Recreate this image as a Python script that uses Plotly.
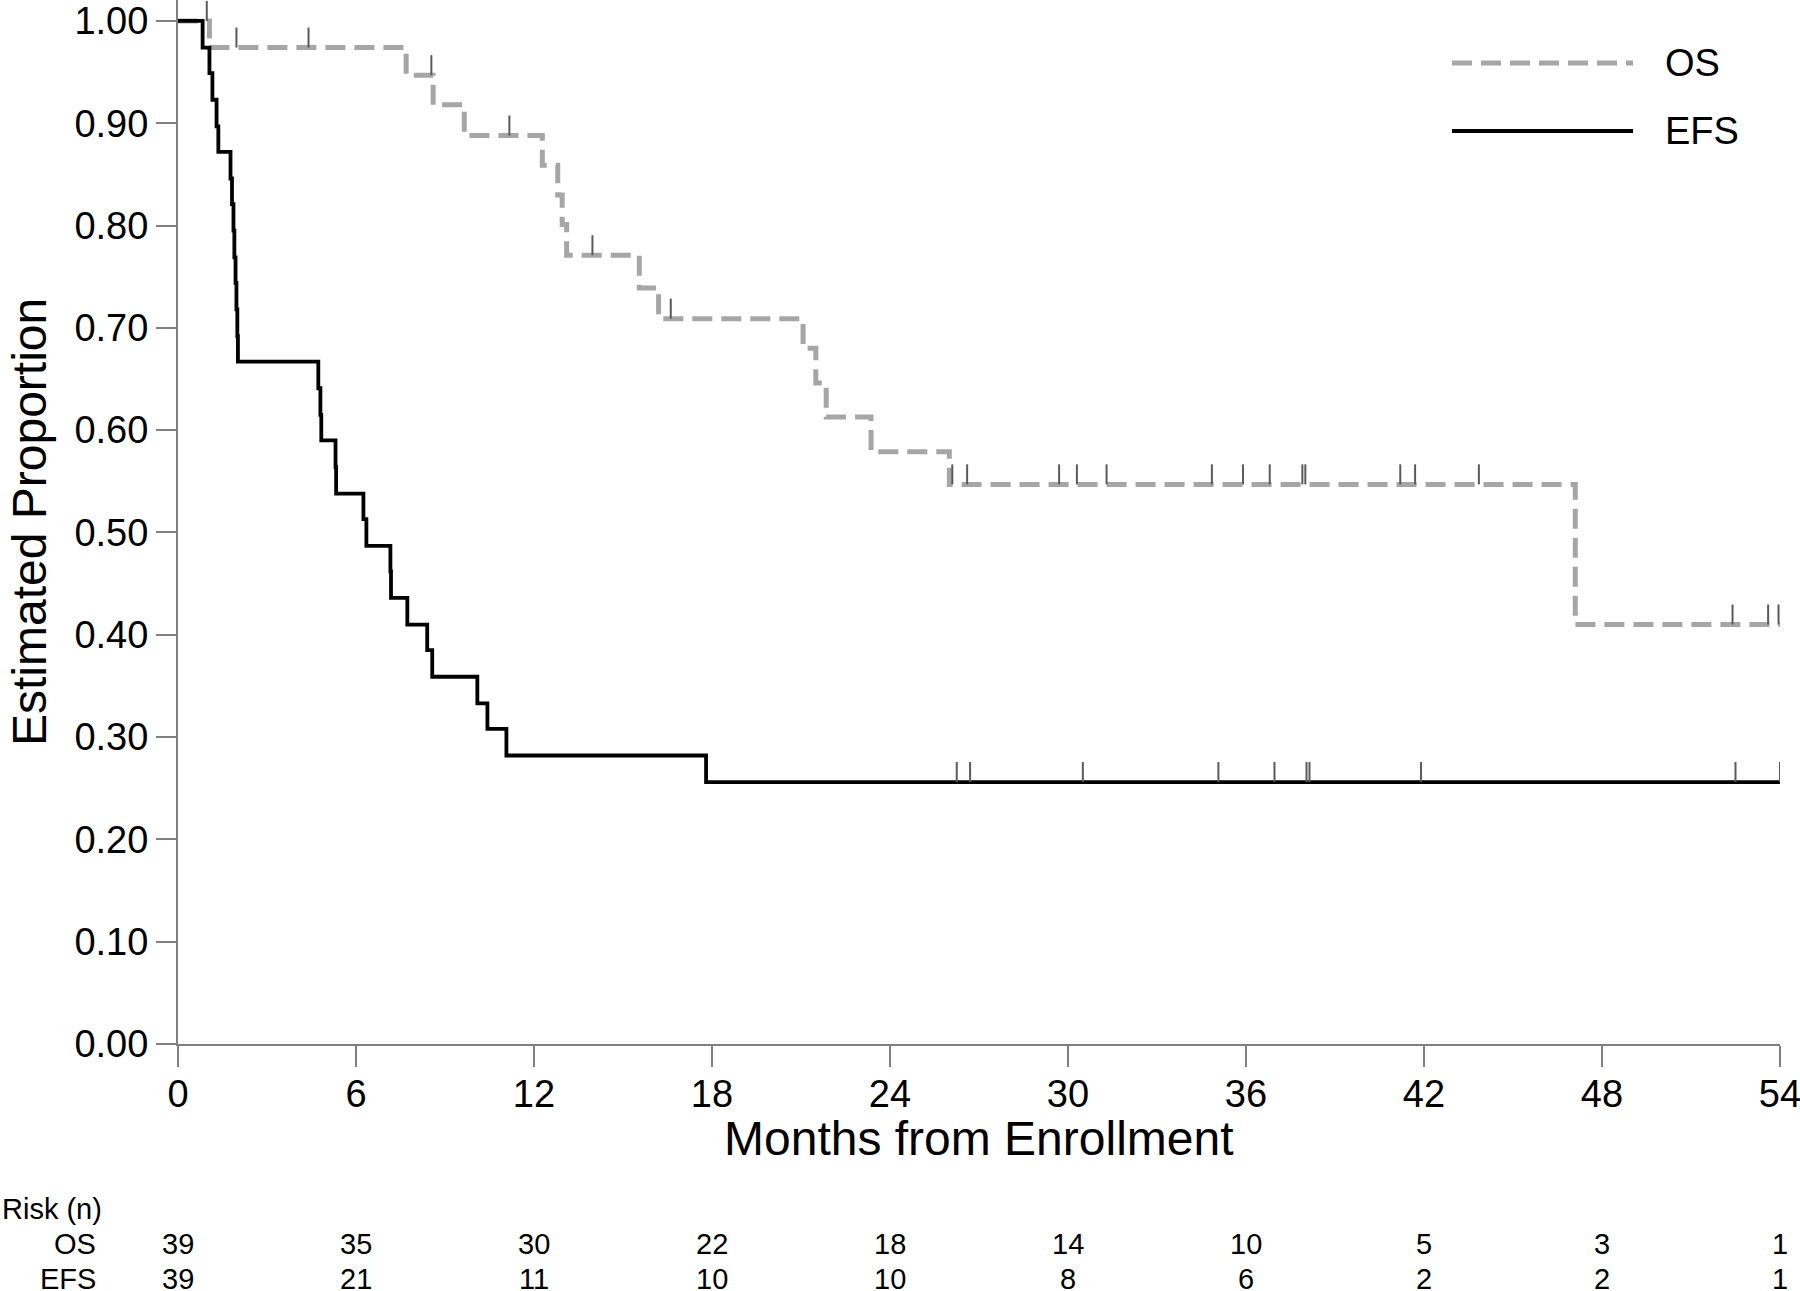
import plotly.graph_objects as go

# ---------------- data ----------------
# Overall survival (OS): event times (months) and KM estimate after each event
os_event_t = [0, 1.06, 7.69, 8.60, 9.65, 12.28, 12.80, 12.95, 13.10, 15.55, 16.20,
              21.07, 21.50, 21.85, 23.36, 26.00, 47.10]
os_surv    = [1.000, 0.974, 0.947, 0.918, 0.888, 0.859, 0.830, 0.801, 0.771, 0.739, 0.709,
              0.680, 0.646, 0.613, 0.579, 0.547, 0.410]
os_censor_t = [0.97, 1.97, 4.40, 8.54, 11.17, 13.97, 16.61, 26.10, 26.60, 29.70, 30.30,
               31.30, 34.85, 35.90, 36.80, 37.90, 38.00, 41.20, 41.70, 43.85, 52.40,
               53.60, 53.95]

# Event-free survival (EFS)
efs_event_t = [0, 0.83, 1.06, 1.16, 1.30, 1.36, 1.77, 1.82, 1.87, 1.90, 1.94, 1.97, 2.00,
               2.02, 4.73, 4.80, 4.83, 5.31, 5.33, 6.25, 6.35, 7.16, 7.18, 7.73, 8.40,
               8.57, 10.09, 10.43, 11.07, 17.80]
efs_surv    = [1.000, 0.974, 0.949, 0.923, 0.897, 0.872, 0.846, 0.821, 0.795, 0.769,
               0.744, 0.718, 0.692, 0.667, 0.641, 0.615, 0.590, 0.564, 0.538, 0.513,
               0.487, 0.462, 0.436, 0.410, 0.385, 0.359, 0.333, 0.308, 0.282, 0.256]
efs_censor_t = [26.25, 26.70, 30.50, 35.07, 36.96, 38.04, 38.14, 41.90, 52.50, 54.00]

x_ticks = [0, 6, 12, 18, 24, 30, 36, 42, 48, 54]
y_ticks = [0.0, 0.1, 0.2, 0.3, 0.4, 0.5, 0.6, 0.7, 0.8, 0.9, 1.0]
risk_os  = [39, 35, 30, 22, 18, 14, 10, 5, 3, 1]
risk_efs = [39, 21, 11, 10, 10, 8, 6, 2, 2, 1]
x_end = 54

# ---------------- helpers ----------------
def km_at(t, times, surv):
    val = surv[0]
    for ti, si in zip(times, surv):
        if ti <= t:
            val = si
    return val

FONT = "Liberation Sans, Arial, Helvetica, sans-serif"
OS_COLOR = "#a6a6a6"
EFS_COLOR = "#000000"
TICK_COLOR = "#5a5a5a"
AXIS_COLOR = "#808080"
DASH = "20px,9px"
CENSOR_H = 0.0196  # height of censor tick (about 20 px)

# plot area in pixels
L, R, T, B = 178, 20, 0, 247
W, H = 1800, 1291
PW, PH = W - L - R, H - T - B

def px_x(px):
    return (px - L) / PW

def px_y(py):
    return (H - B - py) / PH

fig = go.Figure()

# OS step curve
fig.add_trace(go.Scatter(
    x=os_event_t + [x_end], y=os_surv + [os_surv[-1]],
    mode="lines", line=dict(shape="hv", color=OS_COLOR, width=5, dash=DASH),
    showlegend=False, hoverinfo="skip"))

# EFS step curve
fig.add_trace(go.Scatter(
    x=efs_event_t + [x_end], y=efs_surv + [efs_surv[-1]],
    mode="lines", line=dict(shape="hv", color=EFS_COLOR, width=3.8),
    showlegend=False, hoverinfo="skip"))

# censor marks (vertical ticks going up from curve)
for ct, times, surv in [(os_censor_t, os_event_t, os_surv),
                        (efs_censor_t, efs_event_t, efs_surv)]:
    ys = [km_at(t, times, surv) for t in ct]
    fig.add_trace(go.Scatter(
        x=ct, y=ys, mode="markers",
        marker=dict(size=1, color="rgba(0,0,0,0)"),
        error_y=dict(type="data", symmetric=False, array=[CENSOR_H] * len(ct),
                     arrayminus=[0] * len(ct), width=0, thickness=2, color=TICK_COLOR),
        showlegend=False, hoverinfo="skip", cliponaxis=False))

# legend (custom, long line samples)
leg_x0, leg_x1 = px_x(1452), px_x(1633)
for name, color, width, dash, py in [("OS", OS_COLOR, 5, DASH, 63),
                                      ("EFS", EFS_COLOR, 3.8, "solid", 131)]:
    fig.add_shape(type="line", xref="paper", yref="paper",
                  x0=leg_x0, x1=leg_x1, y0=px_y(py), y1=px_y(py),
                  line=dict(color=color, width=width, dash=dash))
    fig.add_annotation(text=name, xref="paper", yref="paper", x=px_x(1663), y=px_y(py),
                       xanchor="left", yanchor="middle", showarrow=False,
                       font=dict(family=FONT, size=38, color="black"))

# axis titles
fig.add_annotation(text="Months from Enrollment", xref="paper", yref="paper",
                   x=0.5, y=px_y(1138), xanchor="center", yanchor="middle",
                   showarrow=False, font=dict(family=FONT, size=48, color="black"))
fig.add_annotation(text="Estimated Proportion", xref="paper", yref="paper",
                   x=px_x(29), y=0.5, xanchor="center", yanchor="middle", textangle=-90,
                   showarrow=False, font=dict(family=FONT, size=48, color="black"))

# risk table
fig.add_annotation(text="Risk (n)", xref="paper", yref="paper", x=px_x(0), y=px_y(1209),
                   xanchor="left", yanchor="middle", showarrow=False,
                   font=dict(family=FONT, size=29, color="black"))
for label, counts, py in [("OS", risk_os, 1244), ("EFS", risk_efs, 1279)]:
    fig.add_annotation(text=label, xref="paper", yref="paper", x=px_x(98), y=px_y(py),
                       xanchor="right", yanchor="middle", showarrow=False,
                       font=dict(family=FONT, size=29, color="black"))
    for xt, n in zip(x_ticks, counts):
        fig.add_annotation(text=str(n), xref="x", yref="paper", x=xt, y=px_y(py),
                           xanchor="center", yanchor="middle", showarrow=False,
                           font=dict(family=FONT, size=29, color="black"))

fig.update_layout(
    width=W, height=H, autosize=False,
    margin=dict(l=L, r=R, t=T, b=B, pad=0),
    paper_bgcolor="white", plot_bgcolor="white",
    font=dict(family=FONT, size=38, color="black"),
    xaxis=dict(range=[0, x_end], tickvals=x_ticks, ticktext=[str(v) for v in x_ticks],
               showgrid=False, zeroline=False, showline=True, linecolor=AXIS_COLOR,
               linewidth=2, ticks="outside", ticklen=21, tickwidth=2,
               tickcolor=AXIS_COLOR, ticklabeloverflow="allow", ticklabelstandoff=-6,
               tickfont=dict(family=FONT, size=38, color="black")),
    yaxis=dict(range=[0, 1.0205], tickvals=y_ticks, tickformat=".2f",
               showgrid=False, zeroline=False, showline=True, linecolor=AXIS_COLOR,
               linewidth=2, ticks="outside", ticklen=20, tickwidth=2,
               tickcolor=AXIS_COLOR, ticklabeloverflow="allow",
               tickfont=dict(family=FONT, size=38, color="black")),
)

fig.write_html("out.html", config={"displayModeBar": False},
               post_script="document.body.style.margin='0';document.body.style.overflow='hidden';")
